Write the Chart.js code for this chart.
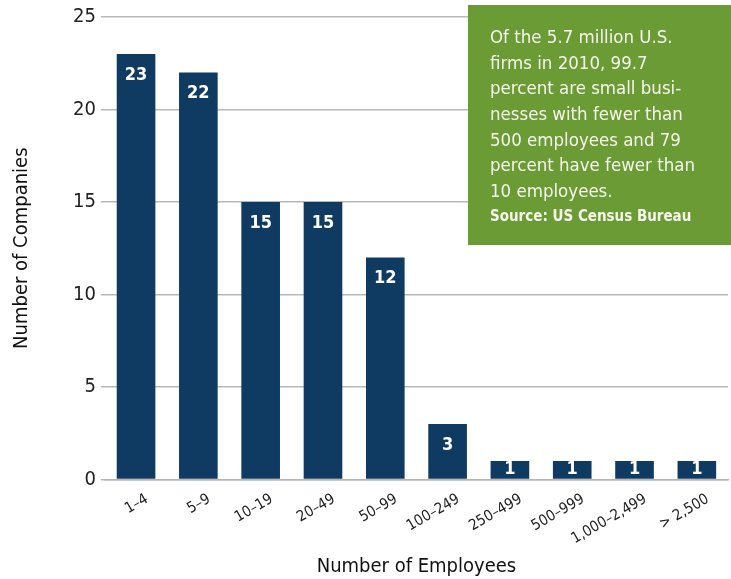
<!DOCTYPE html>
<html>
<head>
<meta charset="utf-8">
<script src="https://cdn.jsdelivr.net/npm/chart.js@4"></script>
<style>
  html, body { margin: 0; padding: 0; background: #fff; }
  #wrap { width: 731px; height: 579px; }
</style>
</head>
<body>
<div id="wrap"><canvas id="sizeChart"></canvas></div>
<script>
var categories = ["1\u20134", "5\u20139", "10\u201319", "20\u201349", "50\u201399", "100\u2013249", "250\u2013499", "500\u2013999", "1,000\u20132,499", "> 2,500"];
var companies = [23, 22, 15, 15, 12, 3, 1, 1, 1, 1];
var yTicks = [0, 5, 10, 15, 20, 25];
var noteLines = [
    "Of the 5.7 million U.S.",
    "firms in 2010, 99.7",
    "percent are small busi-",
    "nesses with fewer than",
    "500 employees and 79",
    "percent have fewer than",
    "10 employees."
];
var noteSource = "Source: US Census Bureau";

var narrow = "'Liberation Sans Narrow', 'DejaVu Sans Condensed', 'Arial Narrow', sans-serif";

// white value labels inside the top of each bar
var valueLabels = {
    id: 'valueLabels',
    afterDatasetsDraw: function (chart) {
        var ctx = chart.ctx;
        var meta = chart.getDatasetMeta(0);
        ctx.save();
        ctx.fillStyle = '#ffffff';
        ctx.font = 'bold 18px ' + narrow;
        ctx.textAlign = 'center';
        ctx.textBaseline = 'middle';
        meta.data.forEach(function (bar, i) {
            var h = bar.base - bar.y;
            var off = Math.min(21, h / 2);
            ctx.fillText(String(companies[i]), bar.x, bar.y + off);
        });
        ctx.restore();
    }
};

// green call-out box in the top right corner
var noteBox = {
    id: 'noteBox',
    afterDraw: function (chart) {
        var ctx = chart.ctx;
        ctx.save();
        ctx.fillStyle = '#6b9b35';
        ctx.fillRect(468, 5, 263, 240);
        ctx.fillStyle = '#f6f8ec';
        ctx.textAlign = 'left';
        ctx.textBaseline = 'middle';
        ctx.font = '18.5px ' + narrow;
        noteLines.forEach(function (line, i) {
            ctx.fillText(line, 490, 38 + i * 25.7);
        });
        ctx.font = 'bold 15px ' + narrow;
        ctx.fillText(noteSource, 490, 217);
        ctx.restore();
    }
};

var ctx = document.getElementById("sizeChart");

var myBarChart = new Chart(ctx, {
    type: 'bar',
    data: {
        labels: categories,
        datasets: [
            {
                label: "Number of Companies",
                backgroundColor: "#0f3b63",
                borderWidth: 0,
                barPercentage: 0.62,
                categoryPercentage: 1,
                data: companies
            }
        ]
    },
    options: {
        responsive: true,
        maintainAspectRatio: false,
        animation: false,
        layout: { padding: { top: 4, right: 3, left: 10, bottom: 0 } },
        plugins: {
            legend: { display: false },
            tooltip: { enabled: false }
        },
        scales: {
            x: {
                grid: { display: false },
                border: { display: true, color: '#b5b5b5', width: 1.5 },
                ticks: {
                    color: '#222',
                    font: { family: narrow, size: 15 },
                    minRotation: 30,
                    maxRotation: 30,
                    labelOffset: 11,
                    padding: 3
                },
                title: {
                    display: true,
                    text: "Number of Employees",
                    color: '#111',
                    font: { family: narrow, size: 20 },
                    padding: { top: 4, bottom: 0 }
                }
            },
            y: {
                min: 0,
                max: 25,
                afterBuildTicks: function (axis) {
                    axis.ticks = yTicks.map(function (v) { return { value: v }; });
                },
                grid: { color: '#b8b8b8', lineWidth: 1.5, tickLength: 4 },
                border: { display: false },
                ticks: {
                    color: '#222',
                    font: { family: narrow, size: 20 },
                    padding: 5
                },
                title: {
                    display: true,
                    text: "Number of Companies",
                    color: '#111',
                    font: { family: narrow, size: 20 },
                    padding: { top: 0, bottom: 34 }
                }
            }
        }
    },
    plugins: [valueLabels, noteBox]
});
</script>
</body>
</html>
